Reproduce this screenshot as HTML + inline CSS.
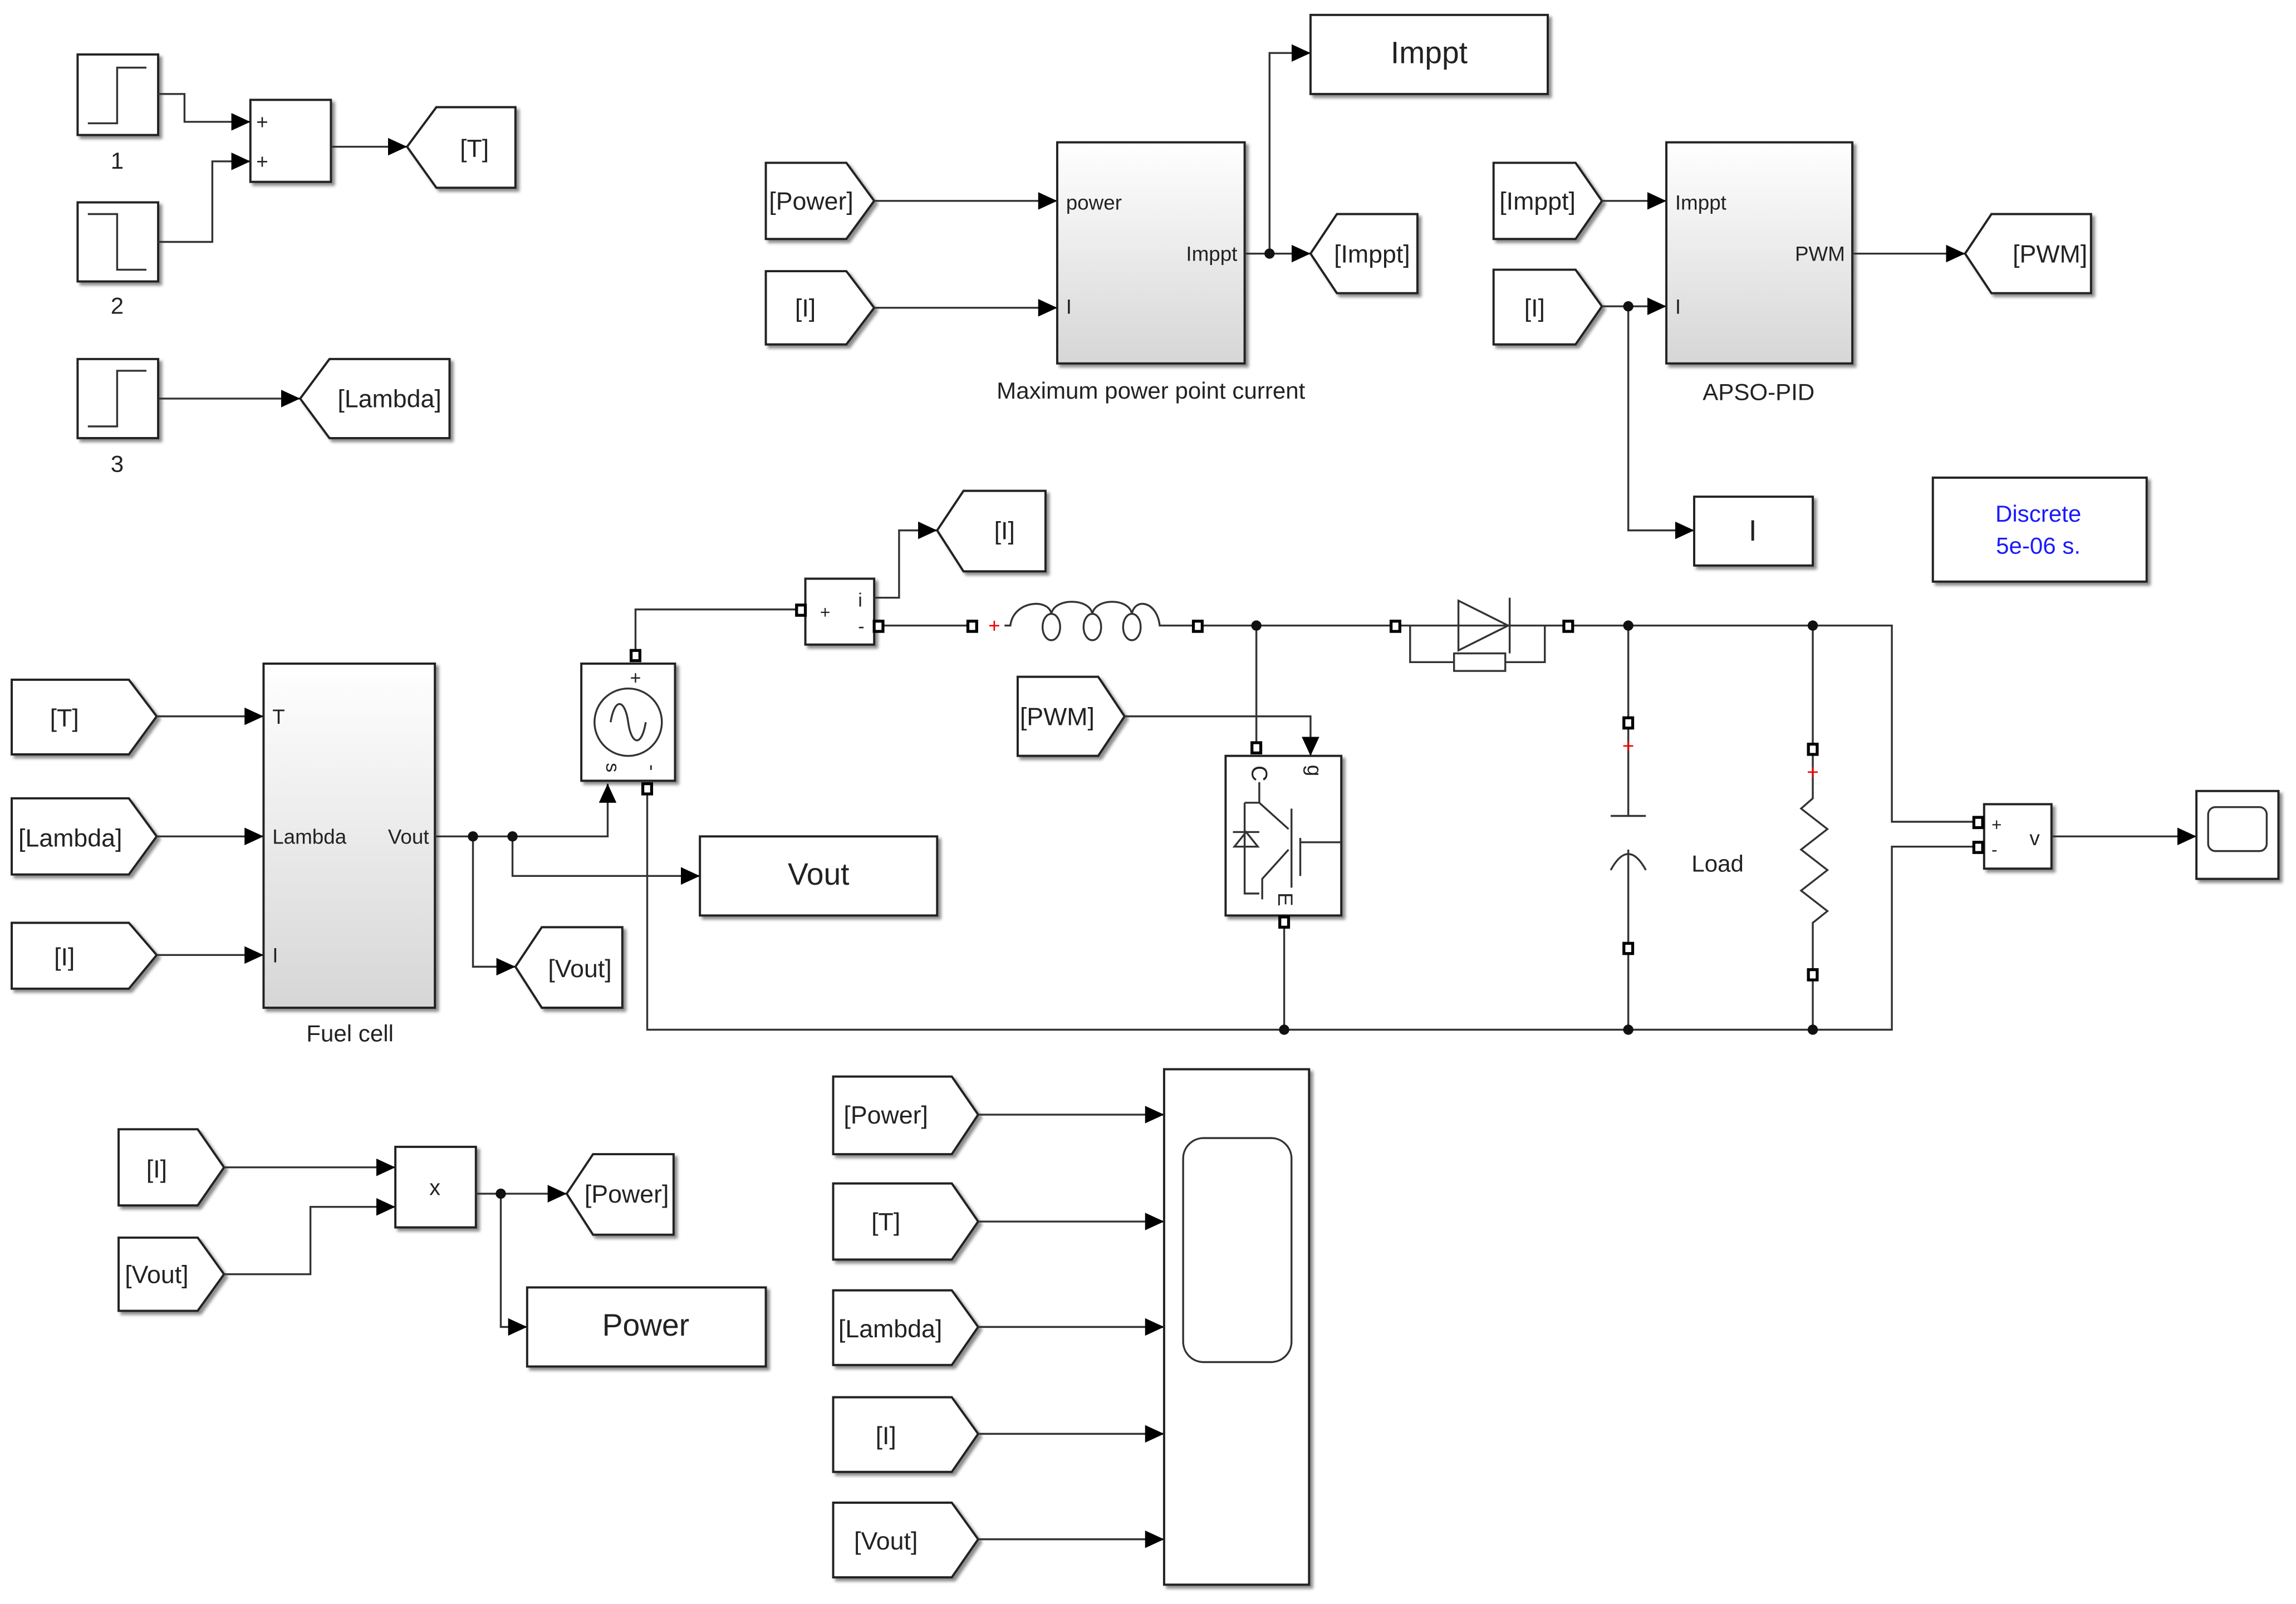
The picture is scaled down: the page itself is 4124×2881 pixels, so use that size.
<!DOCTYPE html>
<html><head><meta charset="utf-8"><style>html,body{margin:0;padding:0;background:#fff}svg{display:block}</style></head><body>
<svg width="4124" height="2881" viewBox="0 0 1568 1095" xmlns="http://www.w3.org/2000/svg" font-family="Liberation Sans, sans-serif">
<defs>
<marker id="a" markerUnits="userSpaceOnUse" markerWidth="14" markerHeight="14" refX="13" refY="7" orient="auto"><path d="M0,1 L13,7 L0,13 Z" fill="#000"/></marker>
<linearGradient id="g" x1="0" y1="0" x2="0" y2="1"><stop offset="0" stop-color="#fff"/><stop offset="1" stop-color="#d6d6d6"/></linearGradient>
<filter id="sh" x="-10%" y="-10%" width="130%" height="130%"><feDropShadow dx="2" dy="2" stdDeviation="1" flood-color="#000" flood-opacity="0.45"/></filter>
</defs>
<g fill="none" stroke="#333" stroke-width="1.3">
<g fill="#fff" stroke="#222" stroke-width="1.5" filter="url(#sh)">
<rect x="53" y="37" width="55" height="55"/><rect x="53" y="138" width="55" height="54"/><rect x="53" y="245" width="55" height="54"/>
<rect x="171" y="68" width="55" height="56"/>
<polygon points="278,100 298,73 352,73 352,128 298,128"/>
<polygon points="205,272 225,245 307,245 307,299 225,299"/>
<polygon points="523,111 578,111 597,137 578,163 523,163"/>
<polygon points="523,185 578,185 597,210 578,235 523,235"/>
<rect x="722" y="97" width="128" height="151" fill="url(#g)"/>
<polygon points="895,173 913,146 968,146 968,200 913,200"/>
<rect x="895" y="10" width="162" height="54"/>
<polygon points="1020,111 1076,111 1094,137 1076,163 1020,163"/>
<polygon points="1020,184 1076,184 1094,209 1076,235 1020,235"/>
<rect x="1138" y="97" width="127" height="151" fill="url(#g)"/>
<polygon points="1342,173 1360,146 1428,146 1428,200 1360,200"/>
<rect x="1157" y="339" width="81" height="47"/>
<rect x="1320" y="326" width="146" height="71"/>
<polygon points="640,362 658,335 714,335 714,390 658,390"/>
<polygon points="8,464 88,464 107,489 88,515 8,515"/>
<polygon points="8,545 88,545 107,571 88,597 8,597"/>
<polygon points="8,630 88,630 107,652 88,675 8,675"/>
<rect x="180" y="453" width="117" height="235" fill="url(#g)"/>
<rect x="397" y="453" width="64" height="80"/>
<rect x="550" y="395" width="47" height="45"/>
<rect x="478" y="571" width="162" height="54"/>
<polygon points="352,660 370,633 425,633 425,688 370,688"/>
<polygon points="695,462 750,462 768,489 750,516 695,516"/>
<rect x="837" y="516" width="79" height="109"/>
<rect x="1355" y="549" width="46" height="44"/>
<rect x="1500" y="540" width="56" height="60"/>
<polygon points="81,771 135,771 153,797 135,823 81,823"/>
<polygon points="81,845 135,845 153,870 135,895 81,895"/>
<rect x="270" y="783" width="55" height="55"/>
<polygon points="387,815 405,788 460,788 460,843 405,843"/>
<rect x="360" y="879" width="163" height="54"/>
<polygon points="569,735 650,735 668,761 650,788 569,788"/>
<polygon points="569,808 650,808 668,834 650,860 569,860"/>
<polygon points="569,881 650,881 668,906 650,932 569,932"/>
<polygon points="569,954 650,954 668,979 650,1005 569,1005"/>
<polygon points="569,1026 650,1026 668,1051 650,1077 569,1077"/>
<rect x="795" y="730" width="99" height="352"/>
</g>
<path d="M60,84 H80 V46 H100"/><path d="M60,146 H80 V184 H100"/><path d="M60,291 H80 V253 H100"/>
<rect x="808" y="777" width="74" height="153" rx="14"/>
<rect x="1508" y="551" width="40" height="30" rx="5"/>
<path d="M108,64 H126 V83 H171" marker-end="url(#a)"/>
<path d="M108,165 H145 V110 H171" marker-end="url(#a)"/>
<path d="M226,100 H278" marker-end="url(#a)"/>
<path d="M108,272 H205" marker-end="url(#a)"/>
<path d="M597,137 H722" marker-end="url(#a)"/>
<path d="M597,210 H722" marker-end="url(#a)"/>
<path d="M850,173 H895" marker-end="url(#a)"/>
<path d="M867,173 V36 H895" marker-end="url(#a)"/>
<path d="M1094,137 H1138" marker-end="url(#a)"/>
<path d="M1094,209 H1138" marker-end="url(#a)"/>
<path d="M1112,209 V362 H1157" marker-end="url(#a)"/>
<path d="M1265,173 H1342" marker-end="url(#a)"/>
<path d="M107,489 H180" marker-end="url(#a)"/>
<path d="M107,571 H180" marker-end="url(#a)"/>
<path d="M107,652 H180" marker-end="url(#a)"/>
<path d="M297,571 H415 V535" marker-end="url(#a)"/>
<path d="M350,571 V598 H478" marker-end="url(#a)"/>
<path d="M323,571 V660 H352" marker-end="url(#a)"/>
<path d="M434,447 V416 H547"/>
<path d="M597,408 H614 V362 H640" marker-end="url(#a)"/>
<path d="M600,427 H664"/>
<path d="M686,427 H690 C692,410 716,408 718,419 C720,408 744,408 746,419 C748,408 771,408 773,419 C775,408 790,410 792,427 H818"/>
<ellipse cx="718" cy="428" rx="6" ry="9"/><ellipse cx="746" cy="428" rx="6" ry="9"/><ellipse cx="773" cy="428" rx="6" ry="9"/>
<path d="M818,427 H953"/>
<path d="M768,489 H895 V516" marker-end="url(#a)"/>
<path d="M858,427 V510"/>
<path d="M953,427 H1071 M963,427 V452 H993 M1028,452 H1055 V427"/>
<rect x="993" y="446" width="35" height="12"/>
<path d="M996,410 L1030,427 L996,444 Z M1031,408 V446"/>
<path d="M1071,427 H1292 V561 H1351"/>
<path d="M442,539 V703 H1292 V578 H1351"/>
<path d="M877,629 V703"/>
<path d="M1112,427 V557 M1100,557 H1124 M1100,594 Q1112,572 1124,594 M1112,580 V703"/>
<path d="M1238,427 V545 L1230,552 L1248,566 L1230,580 L1248,594 L1230,608 L1248,622 L1238,630 V703"/>
<path d="M1401,571 H1500" marker-end="url(#a)"/>
<path d="M153,797 H270" marker-end="url(#a)"/>
<path d="M153,870 H212 V824 H270" marker-end="url(#a)"/>
<path d="M325,815 H387" marker-end="url(#a)"/>
<path d="M342,815 V906 H360" marker-end="url(#a)"/>
<path d="M668,761 H795" marker-end="url(#a)"/>
<path d="M668,834 H795" marker-end="url(#a)"/>
<path d="M668,906 H795" marker-end="url(#a)"/>
<path d="M668,979 H795" marker-end="url(#a)"/>
<path d="M668,1051 H795" marker-end="url(#a)"/>
<circle cx="429" cy="493" r="23"/>
<path d="M417,493 C420,475 427,478 429,493 C431,508 438,511 441,493"/>
<path d="M860,534 V548 L880,566 M882,552 V606 M888,572 V598 M888,575 H916 M880,580 L862,600 V614 M850,548 H860 M850,548 V610 H860 M842,568 H860 M851,568 L843,578 H859 Z"/>
</g>
<g fill="#111">
<circle cx="867" cy="173" r="3.5"/><circle cx="1112" cy="209" r="3.5"/><circle cx="323" cy="571" r="3.5"/><circle cx="350" cy="571" r="3.5"/><circle cx="342" cy="815" r="3.5"/>
<circle cx="858" cy="427" r="3.5"/><circle cx="1112" cy="427" r="3.5"/><circle cx="1238" cy="427" r="3.5"/><circle cx="877" cy="703" r="3.5"/><circle cx="1112" cy="703" r="3.5"/><circle cx="1238" cy="703" r="3.5"/>
</g>
<g fill="#fff" stroke="#000" stroke-width="2">
<rect x="431" y="444" width="6" height="7"/><rect x="439" y="535" width="6" height="7"/><rect x="544" y="413" width="6" height="7"/><rect x="597" y="424" width="6" height="7"/>
<rect x="661" y="424" width="6" height="7"/><rect x="815" y="424" width="6" height="7"/><rect x="950" y="424" width="6" height="7"/><rect x="1068" y="424" width="6" height="7"/>
<rect x="855" y="507" width="6" height="7"/><rect x="874" y="626" width="6" height="7"/>
<rect x="1109" y="490" width="6" height="7"/><rect x="1109" y="644" width="6" height="7"/><rect x="1235" y="508" width="6" height="7"/><rect x="1235" y="662" width="6" height="7"/>
<rect x="1348" y="558" width="6" height="7"/><rect x="1348" y="575" width="6" height="7"/>
</g>
<g fill="#e00" font-size="14" text-anchor="middle"><text x="679" y="432">+</text><text x="1112" y="514">+</text><text x="1238" y="532">+</text></g>
<g fill="#222" font-size="16">
<text x="80" y="115" text-anchor="middle">1</text><text x="80" y="214" text-anchor="middle">2</text><text x="80" y="322" text-anchor="middle">3</text>
<text x="175" y="88" font-size="14">+</text><text x="175" y="115" font-size="14">+</text>
<text x="324" y="107" text-anchor="middle" font-size="17">[T]</text>
<text x="266" y="278" text-anchor="middle" font-size="17">[Lambda]</text>
<text x="554" y="143" text-anchor="middle" font-size="17">[Power]</text>
<text x="550" y="216" text-anchor="middle" font-size="17">[I]</text>
<text x="728" y="143" font-size="14">power</text><text x="728" y="214" font-size="14">I</text><text x="845" y="178" font-size="14" text-anchor="end">Imppt</text>
<text x="786" y="272" text-anchor="middle">Maximum power point current</text>
<text x="937" y="179" text-anchor="middle" font-size="17">[Imppt]</text>
<text x="976" y="43" text-anchor="middle" font-size="21">Imppt</text>
<text x="1050" y="143" text-anchor="middle" font-size="17">[Imppt]</text>
<text x="1048" y="216" text-anchor="middle" font-size="17">[I]</text>
<text x="1144" y="143" font-size="14">Imppt</text><text x="1144" y="214" font-size="14">I</text><text x="1260" y="178" font-size="14" text-anchor="end">PWM</text>
<text x="1201" y="273" text-anchor="middle">APSO-PID</text>
<text x="1400" y="179" text-anchor="middle" font-size="17">[PWM]</text>
<text x="1197" y="369" text-anchor="middle" font-size="20">I</text>
<text x="1392" y="356" text-anchor="middle" fill="#1a1aff">Discrete</text><text x="1392" y="378" text-anchor="middle" fill="#1a1aff">5e-06 s.</text>
<text x="686" y="368" text-anchor="middle" font-size="17">[I]</text>
<text x="44" y="496" text-anchor="middle" font-size="17">[T]</text>
<text x="48" y="578" text-anchor="middle" font-size="17">[Lambda]</text>
<text x="44" y="659" text-anchor="middle" font-size="17">[I]</text>
<text x="186" y="494" font-size="14">T</text><text x="186" y="576" font-size="14">Lambda</text><text x="186" y="657" font-size="14">I</text><text x="293" y="576" font-size="14" text-anchor="end">Vout</text>
<text x="239" y="711" text-anchor="middle">Fuel cell</text>
<text x="434" y="467" text-anchor="middle" font-size="13">+</text>
<text x="560" y="422" font-size="12">+</text><text x="586" y="414" font-size="13">i</text><text x="586" y="432" font-size="13">-</text>
<text x="559" y="604" text-anchor="middle" font-size="21">Vout</text>
<text x="396" y="667" text-anchor="middle" font-size="17">[Vout]</text>
<text x="722" y="495" text-anchor="middle" font-size="17">[PWM]</text>
<text x="1173" y="595" text-anchor="middle">Load</text>
<text x="1360" y="567" font-size="12">+</text><text x="1360" y="584" font-size="12">-</text><text x="1386" y="577" font-size="14">v</text>
<text x="107" y="804" text-anchor="middle" font-size="17">[I]</text>
<text x="107" y="876" text-anchor="middle" font-size="17">[Vout]</text>
<text x="297" y="816" text-anchor="middle" font-size="15">x</text>
<text x="428" y="821" text-anchor="middle" font-size="17">[Power]</text>
<text x="441" y="912" text-anchor="middle" font-size="21">Power</text>
<text x="605" y="767" text-anchor="middle" font-size="17">[Power]</text>
<text x="605" y="840" text-anchor="middle" font-size="17">[T]</text>
<text x="608" y="913" text-anchor="middle" font-size="17">[Lambda]</text>
<text x="605" y="986" text-anchor="middle" font-size="17">[I]</text>
<text x="605" y="1058" text-anchor="middle" font-size="17">[Vout]</text>
</g>
<g fill="#222" font-size="13" text-anchor="middle">
<text transform="translate(414,524) rotate(90)">s</text>
<text transform="translate(441,524) rotate(90)">-</text>
<text transform="translate(855,528) rotate(90)" font-size="15">C</text>
<text transform="translate(893,526) rotate(90)" font-size="14">g</text>
<text transform="translate(873,614) rotate(90)" font-size="14">E</text>
</g>
</svg>
</body></html>
